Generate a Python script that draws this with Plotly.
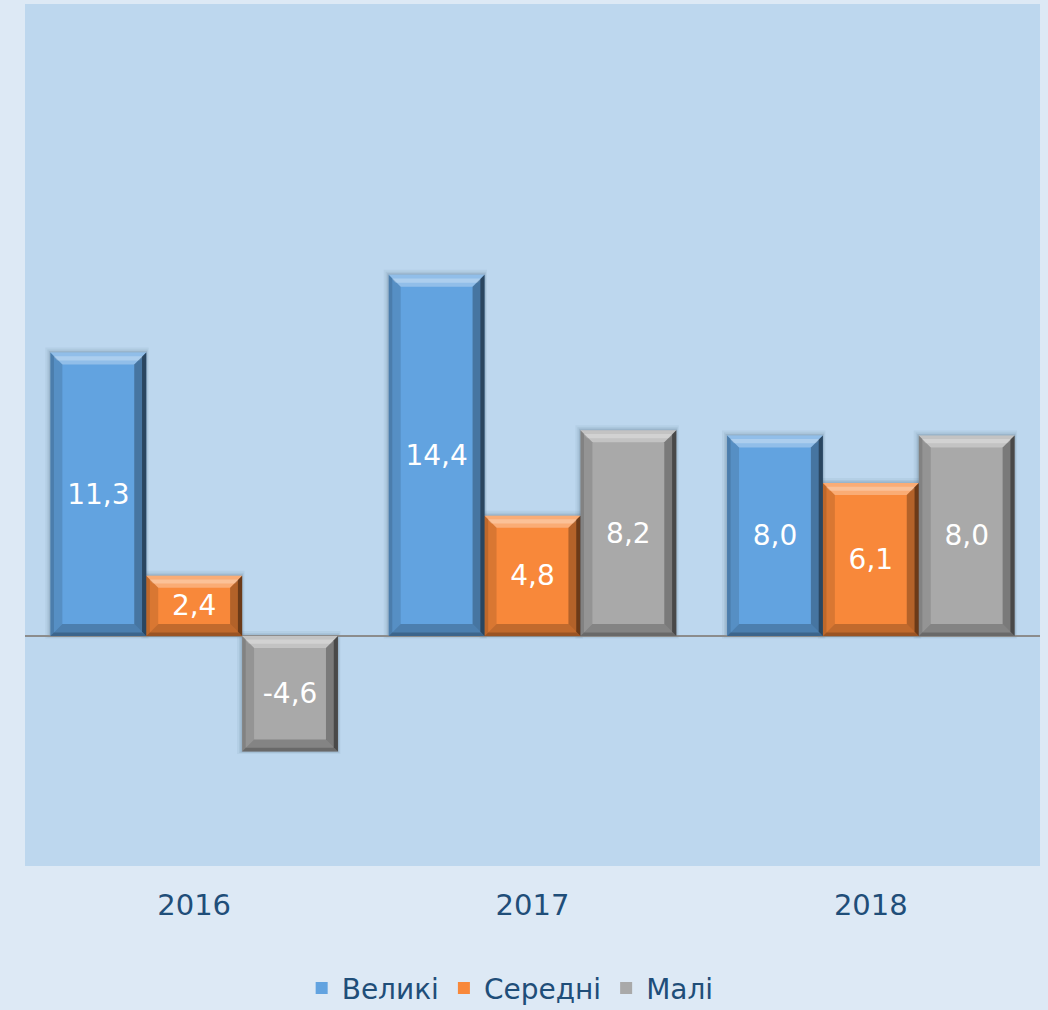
import plotly.graph_objects as go

years = ["2016", "2017", "2018"]
series_names = ["Великі", "Середні", "Малі"]
velyki = [11.3, 14.4, 8.0]
seredni = [2.4, 4.8, 6.1]
mali = [-4.6, 8.2, 8.0]

colors = ["#62a3e0", "#f8883a", "#a9a9a9"]

FONT = "Verdana, DejaVu Sans, sans-serif"
BARGAP = 0.15
Y_RANGE = [-9.17, 25.2]

all_series = [velyki, seredni, mali]
n_series = len(all_series)
bar_w = (1 - BARGAP) / n_series

fig = go.Figure()
for j, (name, vals, c) in enumerate(zip(series_names, all_series, colors)):
    off = -(1 - BARGAP) / 2 + j * bar_w
    fig.add_trace(go.Bar(
        x=years, y=vals, name=name,
        offset=off, width=bar_w,
        marker=dict(color=c, line=dict(width=0)),
        text=[f"{v:.1f}".replace(".", ",") for v in vals],
        textposition="inside", insidetextanchor="middle",
        textfont=dict(color="white", size=28, family=FONT),
        textangle=0,
        hoverinfo="skip",
    ))

# bevel decoration derived from the bar geometry (data units)
plot_w_px = 1048 - 25 - 8
plot_h_px = 1010 - 4 - 144
px_x = 3.0 / plot_w_px          # data units per pixel along x (3 categories)
px_y = (Y_RANGE[1] - Y_RANGE[0]) / plot_h_px
bev = 12

shapes = []
def poly(pts, color, opacity, layer="above"):
    path = "M " + " L ".join(f"{x},{y}" for x, y in pts) + " Z"
    shapes.append(dict(type="path", path=path, xref="x", yref="y",
                       fillcolor=color, opacity=opacity, line=dict(width=0), layer=layer))

for j, vals in enumerate(all_series):
    off = -(1 - BARGAP) / 2 + j * bar_w
    for i, v in enumerate(vals):
        x0 = i + off
        x1 = x0 + bar_w
        top = max(v, 0)
        bot = min(v, 0)
        dx = bev * px_x
        dy = bev * px_y
        # soft shadow (offset slightly up-left)
        for k, op in [(5, 0.05), (3, 0.07), (1.5, 0.1)]:
            poly([(x0 - k * px_x, top + k * px_y), (x1 + k * 0.5 * px_x, top + k * px_y),
                  (x1 + k * 0.5 * px_x, bot - k * 0.5 * px_y), (x0 - k * px_x, bot - k * 0.5 * px_y)],
                 "#1a3550", op, layer="below")
        # top band (light)
        poly([(x0, top), (x1, top), (x1 - dx, top - dy), (x0 + dx, top - dy)], "white", 0.3)
        poly([(x0 + dx * 0.25, top - dy * 0.3), (x1 - dx * 0.25, top - dy * 0.3),
              (x1 - dx * 0.55, top - dy * 0.65), (x0 + dx * 0.55, top - dy * 0.65)], "white", 0.25)
        # left band
        poly([(x0, top), (x0 + dx, top - dy), (x0 + dx, bot + dy), (x0, bot)], "black", 0.12)
        poly([(x0, top), (x0 + dx * 0.3, top - dy * 0.3), (x0 + dx * 0.3, bot + dy * 0.3), (x0, bot)], "black", 0.12)
        # right band (dark)
        poly([(x1, top), (x1, bot), (x1 - dx, bot + dy), (x1 - dx, top - dy)], "black", 0.28)
        poly([(x1, top), (x1, bot), (x1 - dx * 0.35, bot + dy * 0.35), (x1 - dx * 0.35, top - dy * 0.35)], "black", 0.4)
        # bottom band
        poly([(x0, bot), (x1, bot), (x1 - dx, bot + dy), (x0 + dx, bot + dy)], "black", 0.22)
        poly([(x0, bot), (x1, bot), (x1 - dx * 0.3, bot + dy * 0.3), (x0 + dx * 0.3, bot + dy * 0.3)], "black", 0.2)

fig.update_layout(
    width=1048, height=1010,
    paper_bgcolor="#dde9f5", plot_bgcolor="#bdd7ee",
    margin=dict(l=25, r=8, t=4, b=144, autoexpand=False),
    barmode="overlay",
    font=dict(family=FONT, color="#1f4e79", size=28),
    showlegend=True,
    legend=dict(orientation="h", x=0.478, xanchor="center", y=-0.142, yanchor="middle",
                font=dict(size=28, color="#1f4e79"),
                bgcolor="rgba(0,0,0,0)"),
    shapes=shapes,
)
fig.update_xaxes(showgrid=False, showline=False, ticks="", ticklabelstandoff=19,
                 range=[-0.5, 2.5], automargin=False,
                 tickfont=dict(size=29, color="#1f4e79"))
fig.update_yaxes(range=Y_RANGE, showgrid=False, showticklabels=False, automargin=False,
                 zeroline=True, zerolinecolor="#8c8c8c", zerolinewidth=2)

fig.write_html("out.html", config={"displayModeBar": False},
               post_script="document.body.style.margin='0px';")
